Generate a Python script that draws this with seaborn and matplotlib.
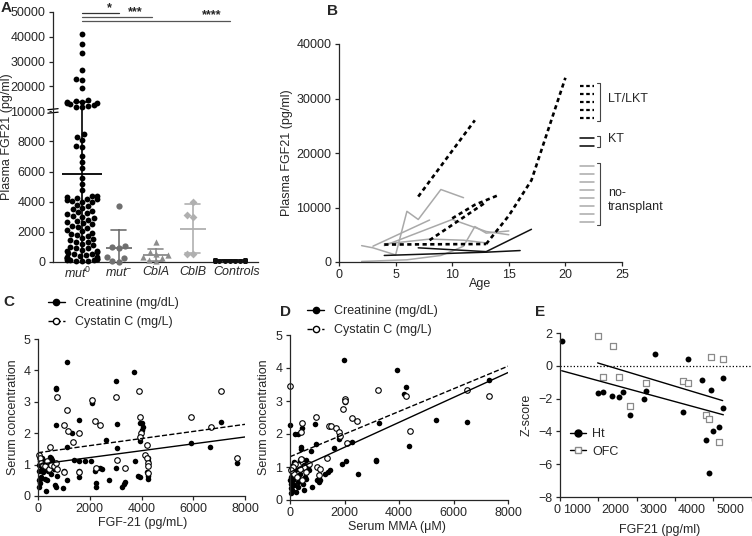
import numpy as np
import pandas as pd
import matplotlib
matplotlib.use('Agg')
import matplotlib.pyplot as plt
from matplotlib.lines import Line2D
from matplotlib.transforms import ScaledTranslation
import seaborn as sns

# ---- Panel A: plasma FGF21 by group
groups_a = ['mut0', 'mut-', 'CblA', 'CblB', 'Controls']
group_labels_a = ['mut$^{0}$', 'mut$^{-}$', 'CblA', 'CblB', 'Controls']
mut0_vals = [41200, 37000, 33500, 26500, 23000, 22600, 19200,
             14600, 14200, 13900, 13600, 13400, 13100, 12800, 12500, 12200, 11800, 11500,
             8460, 8300, 8100, 7700, 7600, 7000, 6600, 6200, 5600, 5200, 4800,
             4400, 4350, 4300, 4250, 4200, 4150, 4100, 4050, 4000, 3950,
             3800, 3700, 3600, 3500, 3400, 3300, 3250, 3150, 3050, 3000,
             2900, 2800, 2750, 2650, 2600, 2500, 2400, 2350, 2250, 2150, 2050,
             1950, 1850, 1800, 1700, 1600, 1500, 1450, 1350, 1300, 1200, 1100, 1000,
             950, 900, 800, 750, 700, 650, 600, 550, 500, 450, 400,
             350, 300, 280, 250, 200, 180, 150, 120, 100, 80, 60, 40]
mutm_vals = [3700, 1050, 1000, 950, 300, 250, 50, 20]
cbla_vals = [1300, 650, 550, 450, 300, 250, 120, 80]
cblb_vals = [4000, 3100, 3000, 500, 500]
ctrl_vals = [150, 140, 130, 120, 110, 100, 95, 90, 85, 80, 75, 70, 65, 60,
             120, 110, 100, 90, 80, 135, 125, 105, 115, 95, 85]

# ---- Panel B: FGF21 over age per patient
lt_ages = [[7, 12], [8, 10.5, 13], [10, 12, 14], [4, 13], [13, 15, 17, 20]]
lt_fgf = [[12000, 26000], [4000, 7500, 11000], [8000, 10500, 12200],
          [3200, 3300], [3300, 8500, 15000, 33800]]
kt_ages = [[7, 13, 17], [4, 13, 16]]
kt_fgf = [[2600, 1900, 6000], [1200, 1800, 2100]]
nt_ages = [[2, 3, 5, 6, 7, 9, 11], [3, 8], [4, 10, 13, 15], [4, 8, 11, 13],
           [2, 6, 9, 10, 11, 12, 13, 15]]
nt_fgf = [[3000, 2600, 1300, 9300, 7800, 13300, 11800], [2900, 7700],
          [3000, 7800, 5600, 5000], [3300, 4200, 4000, 3500],
          [100, 400, 1200, 2000, 2900, 6500, 5300, 5700]]

# ---- Panel C: serum markers vs FGF-21
c_cr_x = [1135, 3716, 3020, 700, 710, 2090, 7060, 3050, 700, 1590, 1330, 3960, 4010, 4040,
          4000, 2640, 3960, 5920, 6660, 1130, 3060, 1400, 7710, 3740, 1590, 1830, 2060,
          4260, 4240, 4200, 3870, 3960, 4240, 4270, 3380, 3340, 3250, 2760, 2240, 2240,
          1580, 1600, 1130, 980, 1010, 2470, 2400, 2190, 3000,
          20, 40, 60, 30, 50, 80, 100, 150, 200, 250, 120, 320, 350, 400, 450, 500, 550,
          600, 620, 650, 700, 750, 300, 180, 420, 520, 280, 90, 160, 230]
c_cr_y = [4.26, 3.95, 3.66, 3.45, 3.40, 2.95, 2.37, 2.30, 2.27, 2.43, 2.01, 2.33, 2.32, 2.20,
          2.10, 1.77, 1.75, 1.70, 1.57, 1.56, 1.53, 1.15, 1.06, 1.10, 1.10, 1.10, 1.10,
          1.20, 1.10, 0.78, 0.63, 0.62, 0.65, 0.55, 0.45, 0.38, 0.30, 0.50, 0.40, 0.30,
          0.60, 0.80, 0.50, 0.25, 0.80, 0.85, 0.88, 0.80, 0.90,
          0.30, 0.50, 0.55, 0.80, 1.00, 1.10, 1.05, 0.90, 0.95, 0.85, 0.60, 0.15, 0.50,
          0.80, 1.25, 1.20, 1.15, 1.00, 0.85, 0.35, 0.30, 0.65, 1.00, 0.75, 1.10, 0.70,
          0.55, 0.40, 1.20, 1.10]
c_cy_x = [3900, 7060, 720, 3010, 2090, 1130, 5910, 3940, 2190, 2410, 990, 6670, 1150, 1600,
          3970, 3940, 1350, 4200, 480, 4150, 4200, 7710, 3050, 4250, 4250, 2230, 3350, 1600,
          1000, 4250,
          20, 60, 120, 200, 260, 350, 430, 520, 600, 700, 750]
c_cy_y = [3.33, 3.33, 3.16, 3.16, 3.05, 2.75, 2.52, 2.51, 2.38, 2.26, 2.26, 2.19, 2.06, 2.00,
          2.00, 1.88, 1.72, 1.62, 1.55, 1.30, 1.22, 1.20, 1.15, 1.05, 0.95, 0.88, 0.90, 0.75,
          0.75, 0.72,
          1.30, 1.20, 1.05, 1.00, 0.95, 1.10, 0.85, 1.00, 0.95, 1.05, 0.85]

# ---- Panel D: serum markers vs serum MMA
d_cr_x = [1990, 3930, 4250, 4170, 7300, 2000, 0, 200, 300, 450, 900, 3250, 5340, 6500,
          4380, 1780, 1780, 2280, 1600, 950, 400, 420, 760, 1900, 2050, 3150, 3150, 2480,
          1300, 1450, 1380, 1000, 1050, 1100, 800, 500, 600,
          20, 30, 50, 40, 60, 80, 100, 120, 150, 180, 200, 250, 280, 300, 350, 380, 400,
          450, 500, 550, 600, 650, 700, 30, 10, 90, 220, 160, 320, 480]
d_cr_y = [4.25, 3.95, 3.42, 3.22, 3.65, 2.97, 2.27, 2.00, 2.00, 2.18, 2.30, 2.32, 2.43, 2.37,
          1.65, 1.94, 1.85, 1.75, 1.57, 1.70, 1.60, 1.55, 1.50, 1.10, 1.17, 1.20, 1.17, 0.80,
          0.80, 0.90, 0.85, 0.60, 0.55, 0.62, 0.40, 0.30, 0.65,
          0.20, 0.35, 0.50, 0.70, 0.85, 1.00, 1.05, 0.60, 0.45, 0.75, 0.90, 1.10, 0.55,
          0.40, 0.80, 1.20, 0.95, 1.25, 1.05, 0.70, 1.20, 1.00, 0.90, 0.95, 0.60, 0.30,
          0.25, 1.15, 0.65, 0.50]
d_cy_x = [0, 3230, 6480, 7300, 4240, 2030, 2020, 1960, 2280, 2460, 950, 450, 400, 1420,
          1500, 1700, 1800, 1850, 4400, 2080, 1350, 1000, 1050, 400, 300, 500, 200, 100,
          600, 700, 150, 250, 50, 350, 450, 1100]
d_cy_y = [3.45, 3.33, 3.33, 3.16, 3.15, 3.06, 3.00, 2.75, 2.50, 2.38, 2.52, 2.33, 2.07, 2.25,
          2.25, 2.18, 2.05, 1.95, 2.08, 1.72, 1.28, 1.00, 0.75, 1.25, 1.05, 1.00, 1.10, 1.00,
          0.85, 1.10, 0.80, 0.70, 0.90, 0.95, 0.60, 0.95]

# ---- Panel E: Z-scores vs FGF21
e_ht_x = [652, 1591, 1739, 1974, 2148, 2262, 2436, 2801, 2853, 3088, 3828, 3959, 4316,
          4420, 4507, 4551, 4612, 4768, 4855, 4873]
e_ht_y = [1.54, -1.66, -1.60, -1.83, -1.93, -1.60, -3.03, -2.03, -1.52, 0.73, -2.80, 0.41,
          -0.89, -4.55, -6.54, -1.50, -4.00, -3.74, -2.58, -0.75]
e_ofc_x = [1591, 1983, 1739, 2157, 2436, 2853, 3828, 3959, 4420, 4507, 4551, 4768, 4855]
e_ofc_y = [1.79, 1.18, -0.71, -0.71, -2.48, -1.02, -0.91, -1.06, -2.98, -3.25, 0.51,
           -4.67, 0.43]

W, H = 752, 536
sns.set_style('ticks')
plt.rcParams['font.family'] = ['Liberation Sans', 'DejaVu Sans']
plt.rcParams.update({
    'font.size': 9, 'axes.labelsize': 9, 'xtick.labelsize': 9, 'ytick.labelsize': 9,
    'axes.linewidth': 0.9, 'xtick.major.width': 0.9, 'ytick.major.width': 0.9,
    'xtick.major.size': 3, 'ytick.major.size': 3, 'xtick.major.pad': 2,
    'ytick.major.pad': 2.5,
    'mathtext.fontset': 'custom', 'mathtext.it': 'Liberation Sans:italic',
    'mathtext.rm': 'Liberation Sans',
})

fig = plt.figure(figsize=(W / 100, H / 100), dpi=100)


def px_axes(left, top, right, bottom):
    return fig.add_axes([left / W, 1 - bottom / H, (right - left) / W, (bottom - top) / H])


def panel_letter(x, y, s):
    fig.text(x / W, 1 - y / H, s, fontsize=11, fontweight='bold', va='center', ha='left')


def place_labels(ax, xlab, xpos, ylab, ypos):
    if xlab is not None:
        ax.set_xlabel(xlab, va='center')
        ax.xaxis.set_label_coords(*xpos)
    if ylab is not None:
        ax.set_ylabel(ylab, va='center')
        ax.yaxis.set_label_coords(*ypos)


def nudge(label, dx_px):
    label.set_transform(label.get_transform() +
                        ScaledTranslation(dx_px / 100, 0, fig.dpi_scale_trans))


# ================= Panel A
axA = px_axes(53, 12, 258, 262)
K = 0.1644


def fwd(y):
    y = np.asarray(y, dtype=float)
    return np.where(y <= 1e4, y, 1e4 + (y - 1e4) * K)


def inv(y):
    y = np.asarray(y, dtype=float)
    return np.where(y <= 1e4, y, 1e4 + (y - 1e4) / K)


df_a = pd.concat([
    pd.DataFrame({'group': g, 'fgf21': v})
    for g, v in zip(groups_a, [mut0_vals, mutm_vals, cbla_vals, cblb_vals, ctrl_vals])
], ignore_index=True)

colors_a = {'mut0': '#000000', 'mut-': '#6f6f6f', 'CblA': '#8c8c8c',
            'CblB': '#b0b0b0', 'Controls': '#111111'}
markers_a = {'mut0': 'o', 'mut-': 'o', 'CblA': '^', 'CblB': 'D', 'Controls': 'o'}
sizes_a = {'mut0': 4.2, 'mut-': 4.5, 'CblA': 4.5, 'CblB': 4.0, 'Controls': 3.6}

# mean +/- SD, computed on the linear scale
for g in groups_a:
    sub = df_a[df_a['group'] == g]
    sns.pointplot(data=sub, x='group', y='fgf21', order=groups_a, color=colors_a[g],
                  errorbar='sd', capsize=0.45 if g == 'mut0' else 0.4,
                  linestyle='none', marker='_',
                  markersize=29 if g == 'mut0' else 19, markeredgewidth=1.3,
                  err_kws={'linewidth': 1.2}, ax=axA)

# broken axis: compress values above 10000
axA.set_yscale('function', functions=(fwd, inv))
axA.set_ylim(0, 50000)
axA.set_xlim(-0.78, 4.76)

for g in groups_a:
    sub = df_a[df_a['group'] == g]
    sns.swarmplot(data=sub, x='group', y='fgf21', order=groups_a, color=colors_a[g],
                  marker=markers_a[g], size=sizes_a[g], linewidth=0, ax=axA, clip_on=False)

axA.set_ylim(0, 50000)
axA.set_xlim(-0.78, 4.76)
axA.set_yticks([0, 2000, 4000, 6000, 8000, 10000, 20000, 30000, 40000, 50000])
axA.set_yticklabels(['0', '2000', '4000', '6000', '8000', '10000',
                     '20000', '30000', '40000', '50000'])
axA.set_xticks(range(len(groups_a)))
axA.set_xticklabels(group_labels_a, fontstyle='italic')
axA.tick_params(axis='x', length=0, pad=3)
xlabs = axA.get_xticklabels()
nudge(xlabs[0], -4)
nudge(xlabs[4], 7)
axA.set_xlabel('')
place_labels(axA, None, None, 'Plasma FGF21 (pg/ml)', (-0.225, 0.5))
sns.despine(ax=axA)

# axis break marks near 10000
yb = axA.transLimits.transform((0, fwd(10000)))[1]
axA.plot([0, 0], [yb - 0.006, yb + 0.006], color='white', lw=2.5,
         transform=axA.transAxes, clip_on=False)
for dy in (-0.008, 0.006):
    axA.plot([-0.025, 0.025], [yb + dy, yb + dy + 0.004], color='k', lw=0.9,
             transform=axA.transAxes, clip_on=False)

# significance bars
for x_end, yv, col, stars, xs, ys in [(1, 49600, '#333333', '*', 0.75, 51700),
                                       (1.9, 48000, '#555555', '***', 1.45, 50100),
                                       (4, 46400, '#555555', '****', 3.5, 48700)]:
    axA.plot([0, x_end], [yv, yv], color=col, lw=0.9, clip_on=False)
    axA.text(xs, ys, stars, ha='center', va='center', fontsize=9, fontweight='bold')

panel_letter(1, 8, 'A')

# ================= Panel B
axB = px_axes(339, 44, 622, 262)
rows_b = []
pid = 0
for grp, ages_l, fgf_l in [('no-transplant', nt_ages, nt_fgf), ('KT', kt_ages, kt_fgf),
                           ('LT/LKT', lt_ages, lt_fgf)]:
    for ages, fgfs in zip(ages_l, fgf_l):
        for a, f in zip(ages, fgfs):
            rows_b.append({'patient': pid, 'group': grp, 'age': a, 'fgf21': f})
        pid += 1
df_b = pd.DataFrame(rows_b)

sns.lineplot(data=df_b, x='age', y='fgf21', units='patient', estimator=None,
             hue='group', style='group', size='group',
             palette={'no-transplant': '#a9a9a9', 'KT': '#111111', 'LT/LKT': '#000000'},
             dashes={'no-transplant': '', 'KT': '', 'LT/LKT': (1.6, 1.3)},
             sizes={'no-transplant': 1.1, 'KT': 1.1, 'LT/LKT': 1.9},
             legend=False, ax=axB)
axB.set_xlim(0, 25)
axB.set_ylim(0, 40000)
axB.set_xticks([0, 5, 10, 15, 20, 25])
axB.set_yticks([0, 10000, 20000, 30000, 40000])
place_labels(axB, 'Age', (0.498, -0.1), 'Plasma FGF21 (pg/ml)', (-0.184, 0.5))
sns.despine(ax=axB)


def fx(px):
    return (px - 339) / 283


def fy(py):
    return (262 - py) / 218


def bracket(top, bottom):
    x0, x1 = fx(597), fx(600)
    axB.plot([x0, x1, x1, x0], [fy(top), fy(top), fy(bottom), fy(bottom)], color='#444444',
             lw=0.8, transform=axB.transAxes, clip_on=False)


for k in range(5):
    yy = fy(85.7 + 8.1 * k)
    axB.plot([fx(580), fx(594)], [yy, yy], color='k', lw=1.6, ls=(0, (1.6, 1.2)),
             transform=axB.transAxes)
bracket(82.5, 121)
axB.text(fx(608), fy(99), 'LT/LKT', transform=axB.transAxes, va='center', ha='left')
for k in range(2):
    yy = fy(137.5 + 8 * k)
    axB.plot([fx(580), fx(594)], [yy, yy], color='k', lw=1.1, transform=axB.transAxes)
bracket(135.5, 147)
axB.text(fx(608), fy(138.5), 'KT', transform=axB.transAxes, va='center', ha='left')
for k in range(8):
    yy = fy(165.7 + 8 * k)
    axB.plot([fx(580), fx(594)], [yy, yy], color='#a9a9a9', lw=1.1, transform=axB.transAxes)
bracket(163, 225)
axB.text(fx(608), fy(200), 'no-\ntransplant', transform=axB.transAxes, va='center',
         ha='left', linespacing=1.3)

panel_letter(327, 11, 'B')


# ================= Panels C and D
def marker_legend(ax, x, y):
    handles = [Line2D([], [], color='k', marker='o', ms=4.5, lw=1),
               Line2D([], [], color='k', marker='o', ms=4.5, mfc='white', lw=1, ls='--')]
    ax.legend(handles, ['Creatinine (mg/dL)', 'Cystatin C (mg/L)'], loc='upper left',
              bbox_to_anchor=(x, y), frameon=False, handlelength=1.3, handletextpad=0.8,
              labelspacing=0.55, borderaxespad=0, borderpad=0, fontsize=9)


def serum_panel(ax, cr_x, cr_y, cy_x, cy_y):
    ax.set_xlim(0, 8000)
    ax.set_ylim(0, 5)
    sns.scatterplot(x=cr_x, y=cr_y, color='k', s=16, linewidth=0, ax=ax, clip_on=False)
    sns.scatterplot(x=cy_x, y=cy_y, facecolor='white', edgecolor='k', s=16, linewidth=0.8,
                    ax=ax, clip_on=False)
    sns.regplot(x=cr_x, y=cr_y, scatter=False, ci=None, truncate=False, color='k',
                line_kws={'lw': 1.0}, ax=ax)
    sns.regplot(x=cy_x, y=cy_y, scatter=False, ci=None, truncate=False, color='k',
                line_kws={'lw': 1.0, 'ls': '--'}, ax=ax)
    ax.set_xlim(0, 8000)
    ax.set_ylim(0, 5)
    ax.set_xticks([0, 2000, 4000, 6000, 8000])
    ax.set_yticks([0, 1, 2, 3, 4, 5])
    sns.despine(ax=ax)


axC = px_axes(38, 339, 245, 496)
serum_panel(axC, c_cr_x, c_cr_y, c_cy_x, c_cy_y)
place_labels(axC, 'FGF-21 (pg/mL)', (0.506, -0.172), 'Serum concentration', (-0.121, 0.5))
marker_legend(axC, 0.05, 1.265)
panel_letter(3, 302, 'C')

axD = px_axes(290, 335, 508, 500)
serum_panel(axD, d_cr_x, d_cr_y, d_cy_x, d_cy_y)
place_labels(axD, 'Serum MMA (\u03bcM)', (0.49, -0.165), 'Serum concentration',
             (-0.119, 0.5))
marker_legend(axD, 0.08, 1.18)
panel_letter(280, 312, 'D')

# ================= Panel E
axE = px_axes(560, 333, 752, 497)
axE.set_xlim(608, 5621)
axE.set_ylim(-8, 2)
axE.axhline(0, color='k', lw=0.9, ls=':')
sns.scatterplot(x=e_ht_x, y=e_ht_y, color='k', s=18, linewidth=0, ax=axE, clip_on=False)
sns.scatterplot(x=e_ofc_x, y=e_ofc_y, marker='s', facecolor='white', edgecolor='#8a8a8a',
                s=22, linewidth=0.9, ax=axE, clip_on=False)
sns.regplot(x=e_ht_x, y=e_ht_y, scatter=False, ci=None, color='k', line_kws={'lw': 1.0},
            ax=axE)
sns.regplot(x=e_ofc_x, y=e_ofc_y, scatter=False, ci=None, color='k', line_kws={'lw': 1.0},
            ax=axE)
axE.set_xlim(608, 5621)
axE.set_ylim(-8, 2)
axE.set_xticks([608 + 1000 * k for k in range(6)])
axE.set_xticklabels(['0', '', '', '', '', ''])
axE.set_xticks([1000, 2000, 3000, 4000, 5000], minor=True)
axE.set_xticklabels(['1000', '2000', '3000', '4000', '5000'], minor=True)
axE.tick_params(axis='x', which='minor', length=0, pad=5, labelsize=9)
nudge(axE.get_xticklabels()[0], -3)
for lab in axE.get_xticklabels(minor=True):
    nudge(lab, 2)
axE.set_yticks([-8, -6, -4, -2, 0, 2])
place_labels(axE, 'FGF21 (pg/ml)', (0.52, -0.2), 'Z-score', (-0.173, 0.5))
sns.despine(ax=axE)
e_handles = [Line2D([], [], color='k', marker='o', ms=5, lw=1),
             Line2D([], [], color='k', marker='s', ms=5, mfc='white', mec='#8a8a8a', lw=1)]
axE.legend(e_handles, ['Ht', 'OFC'], loc='upper left', bbox_to_anchor=(0.05, 0.42),
           frameon=False, handlelength=1.3, handletextpad=0.5, labelspacing=0.45,
           borderaxespad=0, borderpad=0, fontsize=9)
panel_letter(535, 312, 'E')

fig.savefig('out.png', dpi=100)
